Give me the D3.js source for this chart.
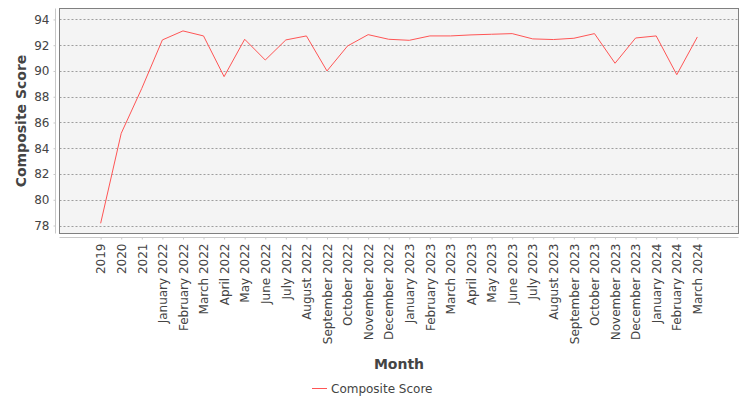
<!DOCTYPE html>
<html>
<head>
<meta charset="utf-8">
<script src="https://cdn.jsdelivr.net/npm/d3@7"></script>
<style>
  body { margin: 0; background: #fff; }
  text { font-family: "DejaVu Sans", sans-serif; fill: #444; }
</style>
</head>
<body>
<svg width="750" height="400"></svg>
<script>
const months = ['2019', '2020', '2021',
    'January 2022', 'February 2022', 'March 2022', 'April 2022', 'May 2022', 'June 2022',
    'July 2022', 'August 2022', 'September 2022', 'October 2022', 'November 2022', 'December 2022',
    'January 2023', 'February 2023', 'March 2023', 'April 2023', 'May 2023', 'June 2023',
    'July 2023', 'August 2023', 'September 2023', 'October 2023', 'November 2023', 'December 2023',
    'January 2024', 'February 2024', 'March 2024'];
const scores = [78.17, 85.16, 88.65,
    92.41, 93.11, 92.72, 89.56, 92.46, 90.85,
    92.41, 92.72, 90.0, 91.94, 92.82, 92.46,
    92.38, 92.72, 92.72, 92.80, 92.85, 92.9,
    92.49, 92.44, 92.54, 92.9, 90.6, 92.56,
    92.72, 89.71, 92.64];
const yTicks = [78, 80, 82, 84, 86, 88, 90, 92, 94];

const plot = {l: 59.5, r: 738.5, t: 8.5, b: 233.5};
const svg = d3.select('svg');

const x = d3.scalePoint()
    .domain(months)
    .range([plot.l, plot.r])
    .padding(2);

const y = d3.scaleLinear()
    .domain([77.38, 94.85])
    .range([plot.b, plot.t]);

// plot background
svg.append('rect')
    .attr('x', plot.l).attr('y', plot.t)
    .attr('width', plot.r - plot.l).attr('height', plot.b - plot.t)
    .attr('fill', '#f4f4f4');

// gridlines
svg.append('g')
    .selectAll('line')
    .data(yTicks)
    .join('line')
    .attr('x1', plot.l).attr('x2', plot.r)
    .attr('y1', d => Math.round(y(d)) + 0.5).attr('y2', d => Math.round(y(d)) + 0.5)
    .attr('stroke', '#888')
    .attr('stroke-width', 0.8)
    .attr('stroke-dasharray', '2,2');

// plot border
svg.append('rect')
    .attr('x', plot.l).attr('y', plot.t)
    .attr('width', plot.r - plot.l).attr('height', plot.b - plot.t)
    .attr('fill', 'none')
    .attr('stroke', '#808080');

// y axis
const yAxis = svg.append('g')
    .attr('transform', 'translate(55.5,0)')
    .call(d3.axisLeft(y).tickValues(yTicks).tickSize(2).tickPadding(4).tickFormat(d3.format('d')));
yAxis.select('.domain').attr('stroke', '#c8c8c8').attr('d', `M0,${plot.t}V${plot.b}`);
yAxis.selectAll('.tick line').attr('stroke', '#c8c8c8');
yAxis.selectAll('.tick text').attr('font-size', 12).attr('fill', '#444')
    .attr('font-family', '"DejaVu Sans", sans-serif');

// x axis
const xAxis = svg.append('g')
    .attr('transform', 'translate(0,237.5)')
    .call(d3.axisBottom(x).tickSize(2).tickPadding(4));
xAxis.select('.domain').attr('stroke', '#c8c8c8').attr('d', `M${plot.l},0H${plot.r}`);
xAxis.selectAll('.tick line').attr('stroke', '#c8c8c8');
xAxis.selectAll('.tick text')
    .attr('font-size', 12).attr('fill', '#444')
    .attr('font-family', '"DejaVu Sans", sans-serif')
    .attr('text-anchor', 'end')
    .attr('dy', '0.35em')
    .attr('transform', 'translate(0,6) rotate(-90)')
    .attr('x', 0).attr('y', 0);

// line
const line = d3.line()
    .x((d, i) => x(months[i]))
    .y(d => y(d));

svg.append('path')
    .datum(scores)
    .attr('d', line)
    .attr('fill', 'none')
    .attr('stroke', '#ff5555')
    .attr('stroke-width', 1);

// axis titles
svg.append('text')
    .attr('transform', `translate(26,${(plot.t + plot.b) / 2}) rotate(-90)`)
    .attr('text-anchor', 'middle')
    .attr('font-size', 14).attr('font-weight', 'bold')
    .text('Composite Score');

svg.append('text')
    .attr('x', (plot.l + plot.r) / 2).attr('y', 369)
    .attr('text-anchor', 'middle')
    .attr('font-size', 14).attr('font-weight', 'bold')
    .text('Month');

// legend
const legend = svg.append('g').attr('transform', 'translate(312,388)');
legend.append('line')
    .attr('x1', 0).attr('x2', 15).attr('y1', 0.5).attr('y2', 0.5)
    .attr('stroke', '#ff5555');
legend.append('text')
    .attr('x', 19).attr('y', 4.5)
    .attr('font-size', 12)
    .text('Composite Score');
</script>
</body>
</html>
